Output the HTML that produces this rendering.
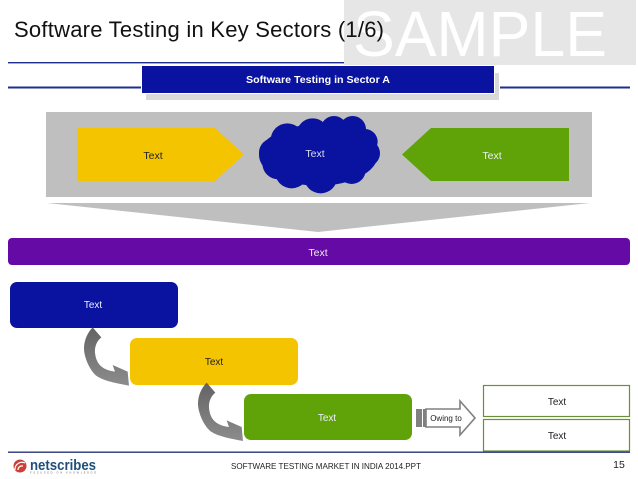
<!DOCTYPE html>
<html>
<head>
<meta charset="utf-8">
<style>
html,body{margin:0;padding:0;background:#fff;}
svg{display:block;}
text{font-family:"Liberation Sans",sans-serif;}
</style>
</head>
<body>
<svg width="638" height="479" viewBox="0 0 638 479" xmlns="http://www.w3.org/2000/svg">
<defs>
<linearGradient id="g" x1="0" y1="0" x2="0" y2="1">
<stop offset="0" stop-color="#636363"/><stop offset="1" stop-color="#8c8c8c"/>
</linearGradient>
</defs>
<rect x="0" y="0" width="638" height="479" fill="#fff"/>
<!-- sample box -->
<rect x="344" y="0" width="292" height="65" fill="#e6e6e6"/>
<text x="353" y="56" font-size="64" fill="#fff" textLength="254" lengthAdjust="spacingAndGlyphs">SAMPLE</text>
<!-- title -->
<text x="14" y="37" font-size="22" fill="#111" textLength="370" lengthAdjust="spacing">Software Testing in Key Sectors (1/6)</text>
<!-- lines -->
<rect x="8" y="62" width="336" height="1.4" fill="#1f2f8f"/>
<rect x="8" y="86.5" width="133" height="2" fill="#1f2f8f"/>
<rect x="500" y="86.5" width="130" height="2" fill="#1f2f8f"/>
<!-- header -->
<rect x="146" y="73" width="353" height="27" fill="#d9d9d9"/>
<rect x="141" y="65" width="354" height="29" fill="#fff"/>
<rect x="142" y="66" width="352" height="27" fill="#0a12a0"/>
<text x="318" y="83" font-size="10" font-weight="bold" fill="#fff" text-anchor="middle" textLength="144" lengthAdjust="spacingAndGlyphs">Software Testing in Sector A</text>
<!-- grey band -->
<rect x="46" y="112" width="546" height="85" fill="#bfbfbf"/>
<polygon points="77,128 215,128 244,154.5 215,181 77,181" fill="#f5c400"/>
<polygon points="569,128 431,128 402,154.5 431,181 569,181" fill="#5fa308"/>
<text x="153" y="159" font-size="10.5" fill="#222" text-anchor="middle">Text</text>
<text x="492" y="159" font-size="10.5" fill="#eef" text-anchor="middle">Text</text>
<!-- cloud -->
<g transform="translate(230,105) scale(0.3333)" fill="#0a12a0">
<ellipse cx="265" cy="150" rx="178" ry="92"/>
<circle cx="172" cy="105" r="50"/>
<circle cx="248" cy="88" r="48"/>
<circle cx="312" cy="73" r="40"/>
<circle cx="368" cy="73" r="40"/>
<circle cx="405" cy="110" r="38"/>
<circle cx="410" cy="145" r="40"/>
<circle cx="365" cy="195" r="42"/>
<circle cx="272" cy="215" r="50"/>
<circle cx="185" cy="200" r="50"/>
<circle cx="130" cy="143" r="43"/>
<circle cx="145" cy="175" r="48"/>
</g>
<text x="315" y="157" font-size="10.5" fill="#dde" text-anchor="middle">Text</text>
<!-- triangle -->
<polygon points="47,203 590,203 318,232" fill="#bfbfbf"/>
<!-- purple -->
<rect x="8" y="238" width="622" height="27" rx="4" fill="#650aa5"/>
<text x="318" y="256" font-size="10.5" fill="#eee" text-anchor="middle">Text</text>
<!-- boxes -->
<rect x="10" y="282" width="168" height="46" rx="7" fill="#0a12a0"/>
<text x="93" y="308" font-size="10" fill="#eef" text-anchor="middle">Text</text>
<rect x="130" y="338" width="168" height="47" rx="7" fill="#f5c400"/>
<text x="214" y="365" font-size="10" fill="#222" text-anchor="middle">Text</text>
<rect x="244" y="394" width="168" height="46" rx="7" fill="#5fa308"/>
<text x="327" y="421" font-size="10" fill="#eef" text-anchor="middle">Text</text>
<!-- curved arrows -->
<g transform="translate(60,320) scale(0.3333)">
<path d="M98,22 L124,52 C108,65 102,85 106,105 C110,130 125,150 165,155 L158,135 L203,155 L207,197 C175,190 135,185 110,168 C88,150 72,110 72,85 C72,62 82,38 98,22 Z" fill="url(#g)"/>
<path transform="translate(342,166)" d="M98,22 L124,52 C108,65 102,85 106,105 C110,130 125,150 165,155 L158,135 L203,155 L207,197 C175,190 135,185 110,168 C88,150 72,110 72,85 C72,62 82,38 98,22 Z" fill="url(#g)"/>
</g>
<!-- Owing to arrow -->
<rect x="416" y="409" width="6" height="18" fill="#808080"/>
<rect x="423" y="409" width="2.5" height="18" fill="#808080"/>
<polygon points="426,409 460,409 460,401 475,418 460,435 460,427 426,427" fill="#fff" stroke="#808080" stroke-width="1.6"/>
<text x="446" y="421" font-size="8" fill="#222" text-anchor="middle">Owing to</text>
<!-- bottom line -->
<rect x="8" y="451.5" width="622" height="1.4" fill="#2a3a7a"/>
<!-- right boxes -->
<rect x="483.5" y="385.5" width="146" height="31" fill="#fff" stroke="#6b8e3a" stroke-width="1.2"/>
<rect x="483.5" y="419.5" width="146" height="31.5" fill="#fff" stroke="#6b8e3a" stroke-width="1.2"/>
<text x="557" y="405" font-size="10" fill="#222" text-anchor="middle">Text</text>
<text x="557" y="439" font-size="10" fill="#222" text-anchor="middle">Text</text>
<!-- footer -->
<text x="326" y="469" font-size="8.5" fill="#222" text-anchor="middle" textLength="190" lengthAdjust="spacingAndGlyphs">SOFTWARE TESTING MARKET IN INDIA 2014.PPT</text>
<text x="619" y="468" font-size="10.5" fill="#222" text-anchor="middle">15</text>
<!-- logo -->
<circle cx="20" cy="466" r="6.5" fill="#c8413a"/>
<path d="M15,470 A7,7 0 0 1 25,463" fill="none" stroke="#fff" stroke-width="1.2"/>
<path d="M18,470 A4,4 0 0 1 23,466" fill="none" stroke="#fff" stroke-width="1.2"/>
<text x="30" y="470" font-size="15" font-weight="bold" fill="#1f4f7a" textLength="66" lengthAdjust="spacingAndGlyphs">netscribes</text>
<text x="30" y="473.5" font-size="2.5" fill="#667" textLength="66">FOCUSED ON KNOWLEDGE</text>
</svg>
</body>
</html>
